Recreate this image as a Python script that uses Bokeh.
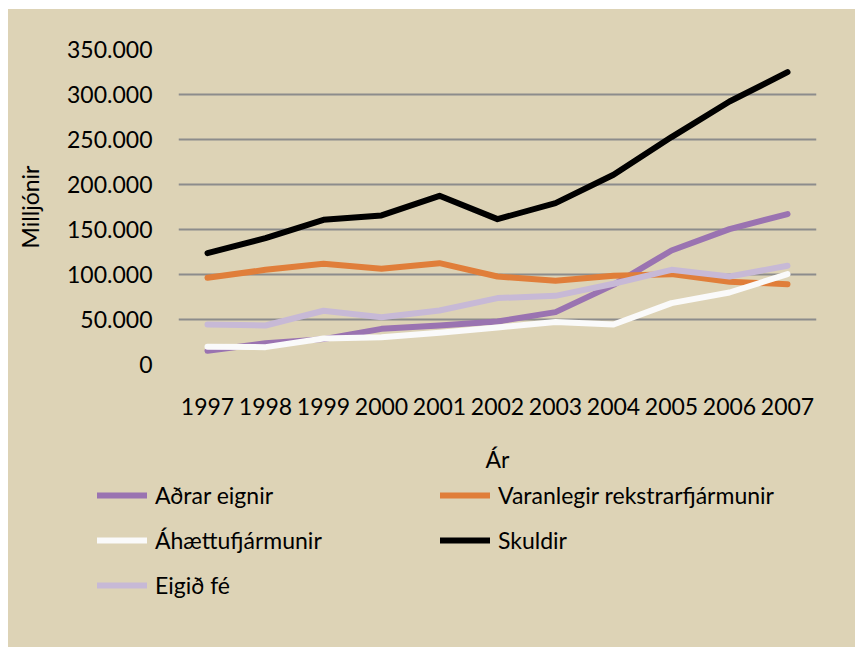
from bokeh.plotting import figure
from bokeh.models import FactorRange, Range1d, FixedTicker, Legend, LegendItem
from bokeh.embed import file_html
from bokeh.resources import INLINE

years = ["1997", "1998", "1999", "2000", "2001", "2002", "2003", "2004", "2005", "2006", "2007"]

adrar_eignir = [15200, 23700, 28200, 39600, 43300, 47800, 58200, 88500, 126700, 150400, 167100]
varanlegir = [96300, 105200, 111900, 106300, 112600, 97800, 93000, 98500, 100400, 91900, 89300]
ahaettu = [19700, 19300, 28900, 30400, 35200, 41100, 47100, 44400, 68200, 80000, 100400]
skuldir = [123800, 140400, 160800, 165600, 187400, 161500, 179300, 210800, 252700, 292200, 324900]
eigid_fe = [44400, 43300, 59700, 52600, 60000, 73800, 76300, 89700, 105200, 97800, 109700]

series_names = ["Aðrar eignir", "Varanlegir rekstrarfjármunir", "Áhættufjármunir", "Skuldir", "Eigið fé"]
series_values = [adrar_eignir, varanlegir, ahaettu, skuldir, eigid_fe]
series_colors = ["#9A73B1", "#E07E3A", "#FAFAFA", "#000000", "#C7B9D6"]

y_ticks = [0, 50000, 100000, 150000, 200000, 250000, 300000, 350000]
y_tick_labels = ["0", "50.000", "100.000", "150.000", "200.000", "250.000", "300.000", "350.000"]

BG = "#DDD3B6"
FONT = "Lato"
LW = 6

p = figure(
    width=847, height=466,
    x_range=FactorRange(*years, range_padding=0),
    y_range=Range1d(0, 350000),
    output_backend="svg", toolbar_location=None,
    min_border_left=170, min_border_right=39, min_border_top=40, min_border_bottom=110,
)
p.margin = (9, 0, 0, 8)
p.styles = {"background-color": BG}
p.background_fill_color = None
p.border_fill_color = None
p.outline_line_color = None

for name, vals, col in zip(series_names, series_values, series_colors):
    p.line(years, vals, line_color=col, line_width=LW, line_cap="round", line_join="round")

# axes
p.yaxis.ticker = FixedTicker(ticks=y_ticks)
p.yaxis.major_label_overrides = {t: l for t, l in zip(y_ticks, y_tick_labels)}
for ax in (p.xaxis[0], p.yaxis[0]):
    ax.axis_line_color = None
    ax.major_tick_line_color = None
    ax.minor_tick_line_color = None
    ax.major_tick_out = 0
    ax.major_tick_in = 0
    ax.minor_tick_out = 0
    ax.minor_tick_in = 0
    ax.major_label_text_font = FONT
    ax.major_label_text_font_size = "23px"
    ax.major_label_text_color = "#000000"
    ax.axis_label_text_font = FONT
    ax.axis_label_text_font_size = "23px"
    ax.axis_label_text_font_style = "normal"
    ax.axis_label_text_color = "#000000"
p.yaxis.axis_label = "Milljónir"
p.xaxis.axis_label = "Ár"
p.yaxis.major_label_standoff = 26
p.yaxis.axis_label_standoff = 20
p.xaxis.major_label_standoff = 33
p.xaxis.axis_label_standoff = 27

p.xgrid.grid_line_color = None
p.ygrid.grid_line_color = "#8C8C8C"
p.ygrid.grid_line_width = 2

# legend panel below the chart (separate root so its frame is not aligned)
p2 = figure(
    width=847, height=172,
    x_range=FactorRange(*years), y_range=Range1d(-2, -1),
    output_backend="svg", toolbar_location=None,
    x_axis_location=None, y_axis_location=None,
    min_border=0,
)
p2.margin = (0, 0, 0, 8)
p2.styles = {"background-color": BG}
p2.background_fill_color = None
p2.border_fill_color = None
p2.outline_line_color = None
p2.xgrid.grid_line_color = None
p2.ygrid.grid_line_color = None

legend_renderers = []
for name, vals, col in zip(series_names, series_values, series_colors):
    r = p2.line(years, vals, line_color=col, line_width=LW, line_cap="round")
    legend_renderers.append(r)

legend = Legend(
    items=[LegendItem(label=n, renderers=[r]) for n, r in zip(series_names, legend_renderers)],
    location=(89, 48),
    orientation="horizontal",
    ncols=2,
    glyph_width=50,
    glyph_height=28,
    label_width=268,
    label_height=28,
    label_standoff=8,
    spacing=17,
    padding=0,
    margin=0,
    background_fill_alpha=0,
    border_line_alpha=0,
    label_text_font=FONT,
    label_text_font_size="23px",
    label_text_color="#000000",
)
p2.add_layout(legend, "center")

open("out.html", "w").write(file_html([p, p2], INLINE))
